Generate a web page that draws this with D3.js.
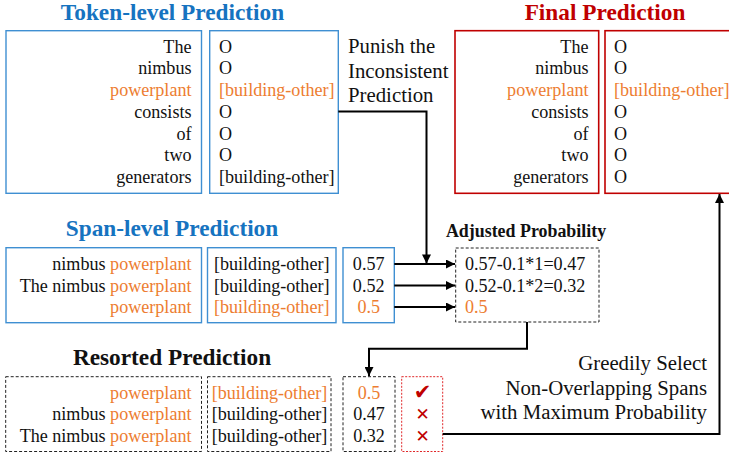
<!DOCTYPE html>
<html><head><meta charset="utf-8">
<script src="https://cdn.jsdelivr.net/npm/d3@7"></script>
<style>html,body{margin:0;padding:0;background:#fff;overflow:hidden}
svg text{font-family:"Liberation Serif","Times New Roman",Tinos,serif}
svg text.sym{font-family:"DejaVu Sans",sans-serif}</style>
</head><body>
<script>
// ---- data ----
const tokens = ["The","nimbus","powerplant","consists","of","two","generators"];
const tokenLabels = ["O","O","[building-other]","O","O","O","[building-other]"];
const tokenHighlight = [false,false,true,false,false,false,false];
const finalLabels = ["O","O","[building-other]","O","O","O","O"];
const spanPrefix = ["nimbus ","The nimbus ",""];
const spanHead = ["powerplant","powerplant","powerplant"];
const spanLabels = ["[building-other]","[building-other]","[building-other]"];
const spanProbs = [0.57,0.52,0.5];
const spanHighlight = [false,false,true];
const adjustedText = ["0.57-0.1*1=0.47","0.52-0.1*2=0.32","0.5"];
const resortedPrefix = ["","nimbus ","The nimbus "];
const resortedHead = ["powerplant","powerplant","powerplant"];
const resortedLabels = ["[building-other]","[building-other]","[building-other]"];
const resortedProbs = ["0.5","0.47","0.32"];
const resortedHighlight = [true,false,false];
const selected = [true,false,false];
const punishText = ["Punish the","Inconsistent","Prediction"];
const greedyText = ["Greedily Select","Non-Overlapping Spans","with Maximum Probability"];

// ---- style ----
const W=729,H=457;
const BLUE_T="#1673c0", BLUE_B="#3f8fd2", ORANGE="#ed7d31", RED="#c00000", RED_D="#e0282a";

const svg=d3.select("body").append("svg").attr("width",W).attr("height",H);
const defs=svg.append("defs");
defs.append("marker").attr("id","ah").attr("viewBox","0 0 10 10").attr("refX",10).attr("refY",5)
  .attr("markerWidth",5.5).attr("markerHeight",4.5).attr("markerUnits","strokeWidth").attr("orient","auto")
  .append("path").attr("d","M0,0L10,5L0,10Z").attr("fill","#000");

// scales for rows (baselines)
const tokRow=d3.scaleLinear().domain([0,tokens.length-1]).range([52.5,183]);
const spanRow=d3.scaleLinear().domain([0,2]).range([270,313]);
const resRow=d3.scaleLinear().domain([0,2]).range([398.5,441.7]);
const markY=d3.scaleLinear().domain([0,2]).range([391.5,436]); // visual centres of marks

function box(x0,y0,x1,y1,stroke,dash,sw){
  svg.append("rect").attr("x",x0).attr("y",y0).attr("width",x1-x0).attr("height",y1-y0)
    .attr("fill","none").attr("stroke",stroke).attr("stroke-width",sw||1.4)
    .attr("stroke-dasharray",dash||null);
}
function title(x,y,t,col,size){
  svg.append("text").attr("x",x).attr("y",y).attr("text-anchor","middle")
    .attr("font-weight","bold").attr("font-size",size||23.3).attr("fill",col).text(t);
}
const FS=18.1, FL=20.8;

// ---- Token-level ----
title(172.5,19.5,"Token-level Prediction",BLUE_T);
box(6,30.7,201.5,193.3,BLUE_B);
box(209.7,30.7,338.3,193.3,BLUE_B);
svg.append("g").selectAll("text").data(tokens).join("text")
  .attr("x",191.5).attr("y",(d,i)=>tokRow(i)).attr("text-anchor","end").attr("font-size",FS)
  .attr("fill",(d,i)=>tokenHighlight[i]?ORANGE:"#111").text(d=>d);
svg.append("g").selectAll("text").data(tokenLabels).join("text")
  .attr("x",219).attr("y",(d,i)=>tokRow(i)).attr("font-size",FS)
  .attr("fill",(d,i)=>tokenHighlight[i]?ORANGE:"#111").text(d=>d);

// Punish text
svg.append("g").selectAll("text").data(punishText).join("text")
  .attr("x",348).attr("y",(d,i)=>53.3+i*24.2).attr("font-size",FL).attr("fill","#111").text(d=>d);

// ---- Final ----
title(605,19.5,"Final Prediction",RED);
box(455,30.7,598.7,193.3,RED,null,1.6);
box(605,30.7,735,193.3,RED,null,1.6);
svg.append("g").selectAll("text").data(tokens).join("text")
  .attr("x",588.5).attr("y",(d,i)=>tokRow(i)).attr("text-anchor","end").attr("font-size",FS)
  .attr("fill",(d,i)=>tokenHighlight[i]?ORANGE:"#111").text(d=>d);
svg.append("g").selectAll("text").data(finalLabels).join("text")
  .attr("x",614).attr("y",(d,i)=>tokRow(i)).attr("font-size",FS)
  .attr("fill",(d,i)=>d!=="O"?ORANGE:"#111").text(d=>d);

// ---- Span-level ----
title(172,236,"Span-level Prediction",BLUE_T);
box(6,247.7,201.5,322.7,BLUE_B);
box(207.5,247.7,336,322.7,BLUE_B);
box(343,247.7,394.3,322.7,BLUE_B);
const spanG=svg.append("g").selectAll("text").data(spanHead).join("text")
  .attr("x",191.5).attr("y",(d,i)=>spanRow(i)).attr("text-anchor","end").attr("font-size",FS);
spanG.append("tspan").attr("fill","#111").text((d,i)=>spanPrefix[i]);
spanG.append("tspan").attr("fill",ORANGE).text(d=>d);
svg.append("g").selectAll("text").data(spanLabels).join("text")
  .attr("x",271.7).attr("y",(d,i)=>spanRow(i)).attr("text-anchor","middle").attr("font-size",FS)
  .attr("fill",(d,i)=>spanHighlight[i]?ORANGE:"#111").text(d=>d);
svg.append("g").selectAll("text").data(spanProbs).join("text")
  .attr("x",368.7).attr("y",(d,i)=>spanRow(i)).attr("text-anchor","middle").attr("font-size",FS)
  .attr("fill",(d,i)=>spanHighlight[i]?ORANGE:"#111").text(d=>String(d));

// ---- Adjusted ----
title(526,236.7,"Adjusted Probability","#111",17.9);
box(455.7,248,599,322,"#222","3,2",1);
svg.append("g").selectAll("text").data(adjustedText).join("text")
  .attr("x",465).attr("y",(d,i)=>spanRow(i)).attr("font-size",FS)
  .attr("fill",(d,i)=>spanHighlight[i]?ORANGE:"#111").text(d=>d);

// arrows from probs to adjusted
svg.append("g").selectAll("line").data(spanProbs).join("line")
  .attr("x1",394.3).attr("x2",455).attr("y1",(d,i)=>spanRow(i)-6).attr("y2",(d,i)=>spanRow(i)-6)
  .attr("stroke","#000").attr("stroke-width",2).attr("marker-end","url(#ah)");

// punish connector
svg.append("path").attr("d",`M338.3,111.5H426.5V${spanRow(0)-6.5}`)
  .attr("fill","none").attr("stroke","#000").attr("stroke-width",2).attr("marker-end","url(#ah)");

// adjusted -> resorted connector
svg.append("path").attr("d","M527,322V348.7H369V376")
  .attr("fill","none").attr("stroke","#000").attr("stroke-width",2).attr("marker-end","url(#ah)");

// ---- Resorted ----
title(172,365,"Resorted Prediction","#111");
box(5.7,376.7,201.5,451.5,"#222","3,2",1);
box(207.5,376.7,331,451.5,"#222","3,2",1);
box(343,376.7,395,451.5,"#222","3,2",1);
box(401.7,376.7,442.7,451.5,RED_D,"2,1.5",1);
const resG=svg.append("g").selectAll("text").data(resortedHead).join("text")
  .attr("x",191.5).attr("y",(d,i)=>resRow(i)).attr("text-anchor","end").attr("font-size",FS);
resG.append("tspan").attr("fill","#111").text((d,i)=>resortedPrefix[i]);
resG.append("tspan").attr("fill",ORANGE).text(d=>d);
svg.append("g").selectAll("text").data(resortedLabels).join("text")
  .attr("x",269.5).attr("y",(d,i)=>resRow(i)).attr("text-anchor","middle").attr("font-size",FS)
  .attr("fill",(d,i)=>resortedHighlight[i]?ORANGE:"#111").text(d=>d);
svg.append("g").selectAll("text").data(resortedProbs).join("text")
  .attr("x",369).attr("y",(d,i)=>resRow(i)).attr("text-anchor","middle").attr("font-size",FS)
  .attr("fill",(d,i)=>resortedHighlight[i]?ORANGE:"#111").text(d=>d);
svg.append("g").selectAll("text").data(selected).join("text").attr("class","sym")
  .attr("x",422.5).attr("y",(d,i)=>markY(i)).attr("dominant-baseline","central")
  .attr("text-anchor","middle").attr("font-weight","bold")
  .attr("font-size",d=>d?21:17).attr("fill",RED).text(d=>d?"✔":"✕");

// greedy connector
svg.append("path").attr("d",`M442.7,434H719.5V194`)
  .attr("fill","none").attr("stroke","#000").attr("stroke-width",2).attr("marker-end","url(#ah)");
svg.append("g").selectAll("text").data(greedyText).join("text")
  .attr("x",707).attr("y",(d,i)=>370+i*24.7).attr("text-anchor","end").attr("font-size",FL)
  .attr("fill","#111").text(d=>d);
</script>
</body></html>
